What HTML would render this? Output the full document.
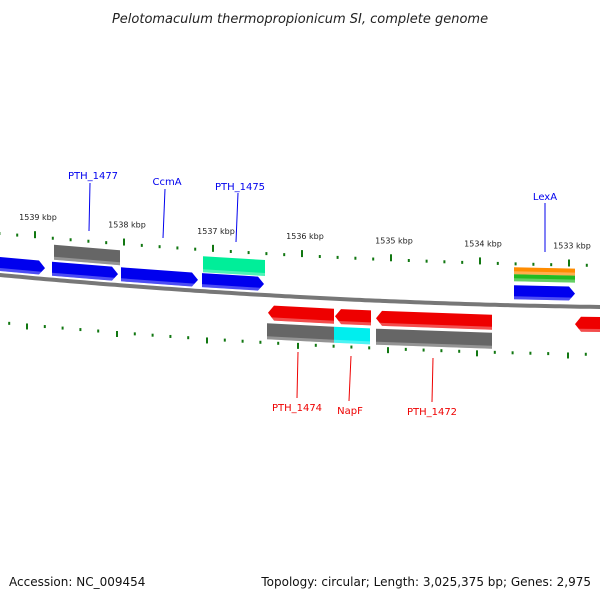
<!DOCTYPE html>
<html><head><meta charset="utf-8"><style>
body{margin:0;background:#fff}
svg{display:block;font-family:"DejaVu Sans","Liberation Sans",sans-serif}
</style></head><body>
<svg id="c" width="600" height="600" viewBox="0 0 600 600">
<text x="300" y="23" text-anchor="middle" font-size="13" font-style="italic" fill="#222">Pelotomaculum thermopropionicum SI, complete genome</text>
<text x="9" y="586" font-size="12" fill="#111">Accession: NC_009454</text>
<text x="591" y="586" font-size="12" fill="#111" text-anchor="end">Topology: circular; Length: 3,025,375 bp; Genes: 2,975</text>
<g id="g"></g>
</svg>
<script>
const topTicks=[1539,1538,1537,1536,1535,1534,1533];
const topTickX=[35,124,213,302,391,480,569];
const botTickX=[27,117,207,298,388,477,568];
// features: [start x, end x, top offset, bottom offset, color, type]
const features=[
 [-5,45,-18,-4,'#0000ee','fwd'],[52,118,-18,-4,'#0000ee','fwd'],[121,198,-18,-4,'#0000ee','fwd'],[202,264,-18,-4,'#0000ee','fwd'],[514,575,-20,-6,'#0000ee','fwd'],
 [54,120,-35,-20,'#666','box'],[203,265,-35,-19,'#00ee99','box'],[514,575,-38,-31,'#ff8c00','box'],[514,575,-31,-24,'#22bb22','box'],
 [268,334,10,25,'#ee0000','rev'],[335,371,10,25,'#ee0000','rev'],[376,492,10,25,'#ee0000','rev'],[575,605,10,25,'#ee0000','rev'],
 [267,334,28,44,'#666','box'],[334,370,28,44,'#00eeee','box'],[376,492,28,44,'#666','box']
];
const geneLabels=['PTH_1477','CcmA','PTH_1475','LexA','PTH_1474','NapF','PTH_1472'];
const geneLabelPos=[[93,179,90,183,89,231,'#0000ee'],[167,185,165,189,163,238,'#0000ee'],[240,190,238,193,236,242,'#0000ee'],[545,200,545,203,545,252,'#0000ee'],[297,411,298,352,297,398,'#ee0000'],[350,414,351,356,349,401,'#ee0000'],[432,415,433,358,432,402,'#ee0000']];
const NS='http://www.w3.org/2000/svg';
const g=document.getElementById('g');
function y0(x){return 275+0.0933*x-6.67e-5*x*x;}
function mk(t,a){const e=document.createElementNS(NS,t);for(const k in a)e.setAttribute(k,a[k]);g.appendChild(e);return e;}
let d='';for(let x=-5;x<=605;x+=5)d+=(x<0?'M':'L')+x+' '+y0(x).toFixed(1);
let bb=mk('path',{d:d,stroke:'#777','stroke-width':4,fill:'none'});


function topTick(x,major){const y=y0(x)-40;const t=mk('line',{x1:x,x2:x,y1:major?y-7:y-3,y2:y,stroke:'#117711','stroke-width':2});
 
 }
function botTick(x,major){const y=y0(x)+46;const t=mk('line',{x1:x,x2:x,y1:y,y2:major?y+6:y+3,stroke:'#117711','stroke-width':2});
 
 }
for(let i=0;i<topTicks.length;i++){
  for(let j=0;j<5;j++){topTick(topTickX[i]+j*17.8,j===0);botTick(botTickX[i]+j*17.8,j===0);}
  const x=topTickX[i];
  const l=mk('text',{x:x+3,y:y0(x)-58,'font-size':8,'text-anchor':'middle',fill:'#222'});
  l.textContent=topTicks[i]+' kbp';
  
  
}
for(let j=1;j<=2;j++){const x=topTickX[0]-j*17.8;if(x>-2)topTick(x,false);const xb=botTickX[0]-j*17.8;if(xb>-2)botTick(xb,false);}
features.forEach(f=>{
  const [a,b,t,bo,c,type]=f;const m=(t+bo)/2;let pts=[];
  if(type==='fwd'){pts=[[a,t],[b-6,t],[b,m],[b-6,bo],[a,bo]];}
  else if(type==='rev'){pts=[[a+6,t],[b,t],[b,bo],[a+6,bo],[a,m]];}
  else pts=[[a,t],[b,t],[b,bo],[a,bo]];
  const p=mk('polygon',{points:pts.map(q=>q[0]+','+(y0(q[0])+q[1]).toFixed(1)).join(' '),fill:c});
  
  
  const s=mk('polygon',{points:[[a+(type==='rev'?4:0),bo-3],[b-(type==='fwd'?2:0),bo-3],[b-(type==='fwd'?2:0),bo],[a+(type==='rev'?4:0),bo]].map(q=>q[0]+','+(y0(q[0])+q[1]).toFixed(1)).join(' '),fill:'#fff',opacity:0.3});
  
  
});
geneLabels.forEach((n,i)=>{
  const [tx,ty,lx1,ly1,lx2,ly2,c]=geneLabelPos[i];
  const ln=mk('line',{x1:lx1,y1:ly1,x2:lx2,y2:ly2,stroke:c,'stroke-width':1});
  
  
  const t=mk('text',{x:tx,y:ty,'font-size':10,'text-anchor':'middle',fill:c});
  t.textContent=n;
  
  
});
</script>
</body></html>
